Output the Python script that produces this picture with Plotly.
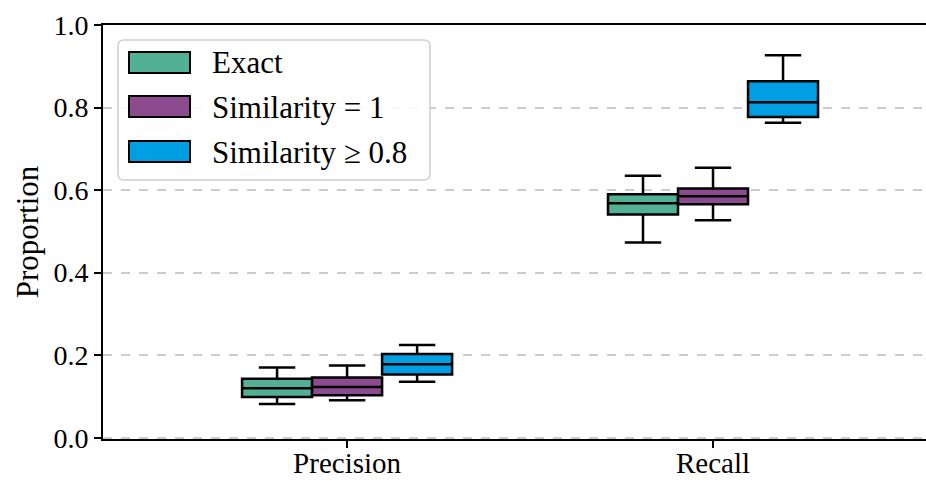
import plotly.graph_objects as go

categories = ["Precision", "Recall"]
series_names = ["Exact", "Similarity = 1", "Similarity ≥ 0.8"]
series_colors = ["#52B194", "#8C4A8F", "#009EE3"]

lower_whisker = {
    "Exact": [0.082, 0.473],
    "Similarity = 1": [0.091, 0.527],
    "Similarity ≥ 0.8": [0.136, 0.763],
}
q1_vals = {
    "Exact": [0.099, 0.541],
    "Similarity = 1": [0.103, 0.566],
    "Similarity ≥ 0.8": [0.153, 0.777],
}
median_vals = {
    "Exact": [0.120, 0.568],
    "Similarity = 1": [0.123, 0.585],
    "Similarity ≥ 0.8": [0.178, 0.813],
}
q3_vals = {
    "Exact": [0.143, 0.590],
    "Similarity = 1": [0.146, 0.604],
    "Similarity ≥ 0.8": [0.203, 0.864],
}
upper_whisker = {
    "Exact": [0.170, 0.635],
    "Similarity = 1": [0.175, 0.654],
    "Similarity ≥ 0.8": [0.225, 0.927],
}

y_ticks = [0.0, 0.2, 0.4, 0.6, 0.8, 1.0]
y_ticklabels = ["0.0", "0.2", "0.4", "0.6", "0.8", "1.0"]

FONT = "Liberation Serif"
FS_NUM = 28
FS_TXT = 29

fig = go.Figure()
for name, color in zip(series_names, series_colors):
    fig.add_trace(go.Box(
        name=name,
        x=categories,
        q1=q1_vals[name],
        median=median_vals[name],
        q3=q3_vals[name],
        lowerfence=lower_whisker[name],
        upperfence=upper_whisker[name],
        fillcolor=color,
        line=dict(color="black", width=2.5),
        whiskerwidth=0.52,
        showlegend=False,
        boxpoints=False,
    ))

# manual legend (matplotlib-style frame with wide swatches)
W, H = 926, 481
ml, mr, mt, mb = 103, 0, 25, 42
pw, ph = W - ml - mr, H - mt - mb

def px_x(x):
    return (x - ml) / pw

def px_y(y):
    return (H - mb - y) / ph

# rounded legend frame
L, R, T, B, r = 118, 430, 40, 180, 6
frame_path = (
    f"M {px_x(L + r)},{px_y(T)} L {px_x(R - r)},{px_y(T)} "
    f"Q {px_x(R)},{px_y(T)} {px_x(R)},{px_y(T + r)} "
    f"L {px_x(R)},{px_y(B - r)} Q {px_x(R)},{px_y(B)} {px_x(R - r)},{px_y(B)} "
    f"L {px_x(L + r)},{px_y(B)} Q {px_x(L)},{px_y(B)} {px_x(L)},{px_y(B - r)} "
    f"L {px_x(L)},{px_y(T + r)} Q {px_x(L)},{px_y(T)} {px_x(L + r)},{px_y(T)} Z"
)
shapes = [dict(type="path", xref="paper", yref="paper", path=frame_path,
               fillcolor="rgba(255,255,255,0.85)", line=dict(color="#d0d0d0", width=1.5),
               layer="above")]
annotations = []
swatch_tops = [52, 96, 141]
for (name, color), top in zip(zip(series_names, series_colors), swatch_tops):
    shapes.append(dict(type="rect", xref="paper", yref="paper",
                       x0=px_x(129), x1=px_x(190), y0=px_y(top + 21), y1=px_y(top),
                       fillcolor=color, line=dict(color="black", width=2), layer="above"))
    annotations.append(dict(xref="paper", yref="paper", x=px_x(210), y=px_y(top + 11),
                            text=name, showarrow=False, xanchor="left", yanchor="middle",
                            font=dict(family=FONT, size=31, color="black")))

fig.update_layout(
    width=W, height=H,
    margin=dict(l=ml, r=mr, t=mt, b=mb),
    paper_bgcolor="white", plot_bgcolor="white",
    boxmode="group", boxgap=0.426, boxgroupgap=0.0,
    font=dict(family=FONT, size=FS_NUM, color="black"),
    shapes=shapes, annotations=annotations,
    xaxis=dict(range=[-0.667, 1.582], showline=True, linecolor="black", linewidth=2,
               mirror=True, ticks="outside", ticklen=7, tickwidth=1.5, tickcolor="black",
               showgrid=False, zeroline=False, automargin=False, ticklabelstandoff=-10,
               tickfont=dict(family=FONT, size=FS_TXT)),
    yaxis=dict(range=[-0.003, 1.0], tickvals=y_ticks, ticktext=y_ticklabels,
               showline=True, linecolor="black", linewidth=2,
               ticks="outside", ticklen=7, tickwidth=1.5, tickcolor="black",
               showgrid=True, gridcolor="#cccccc", gridwidth=1.5, griddash="dash",
               zeroline=False, automargin=False, tickfont=dict(family=FONT, size=FS_NUM),
               title=dict(text="Proportion", font=dict(family=FONT, size=31), standoff=6)),
)

fig.write_html("out.html")
